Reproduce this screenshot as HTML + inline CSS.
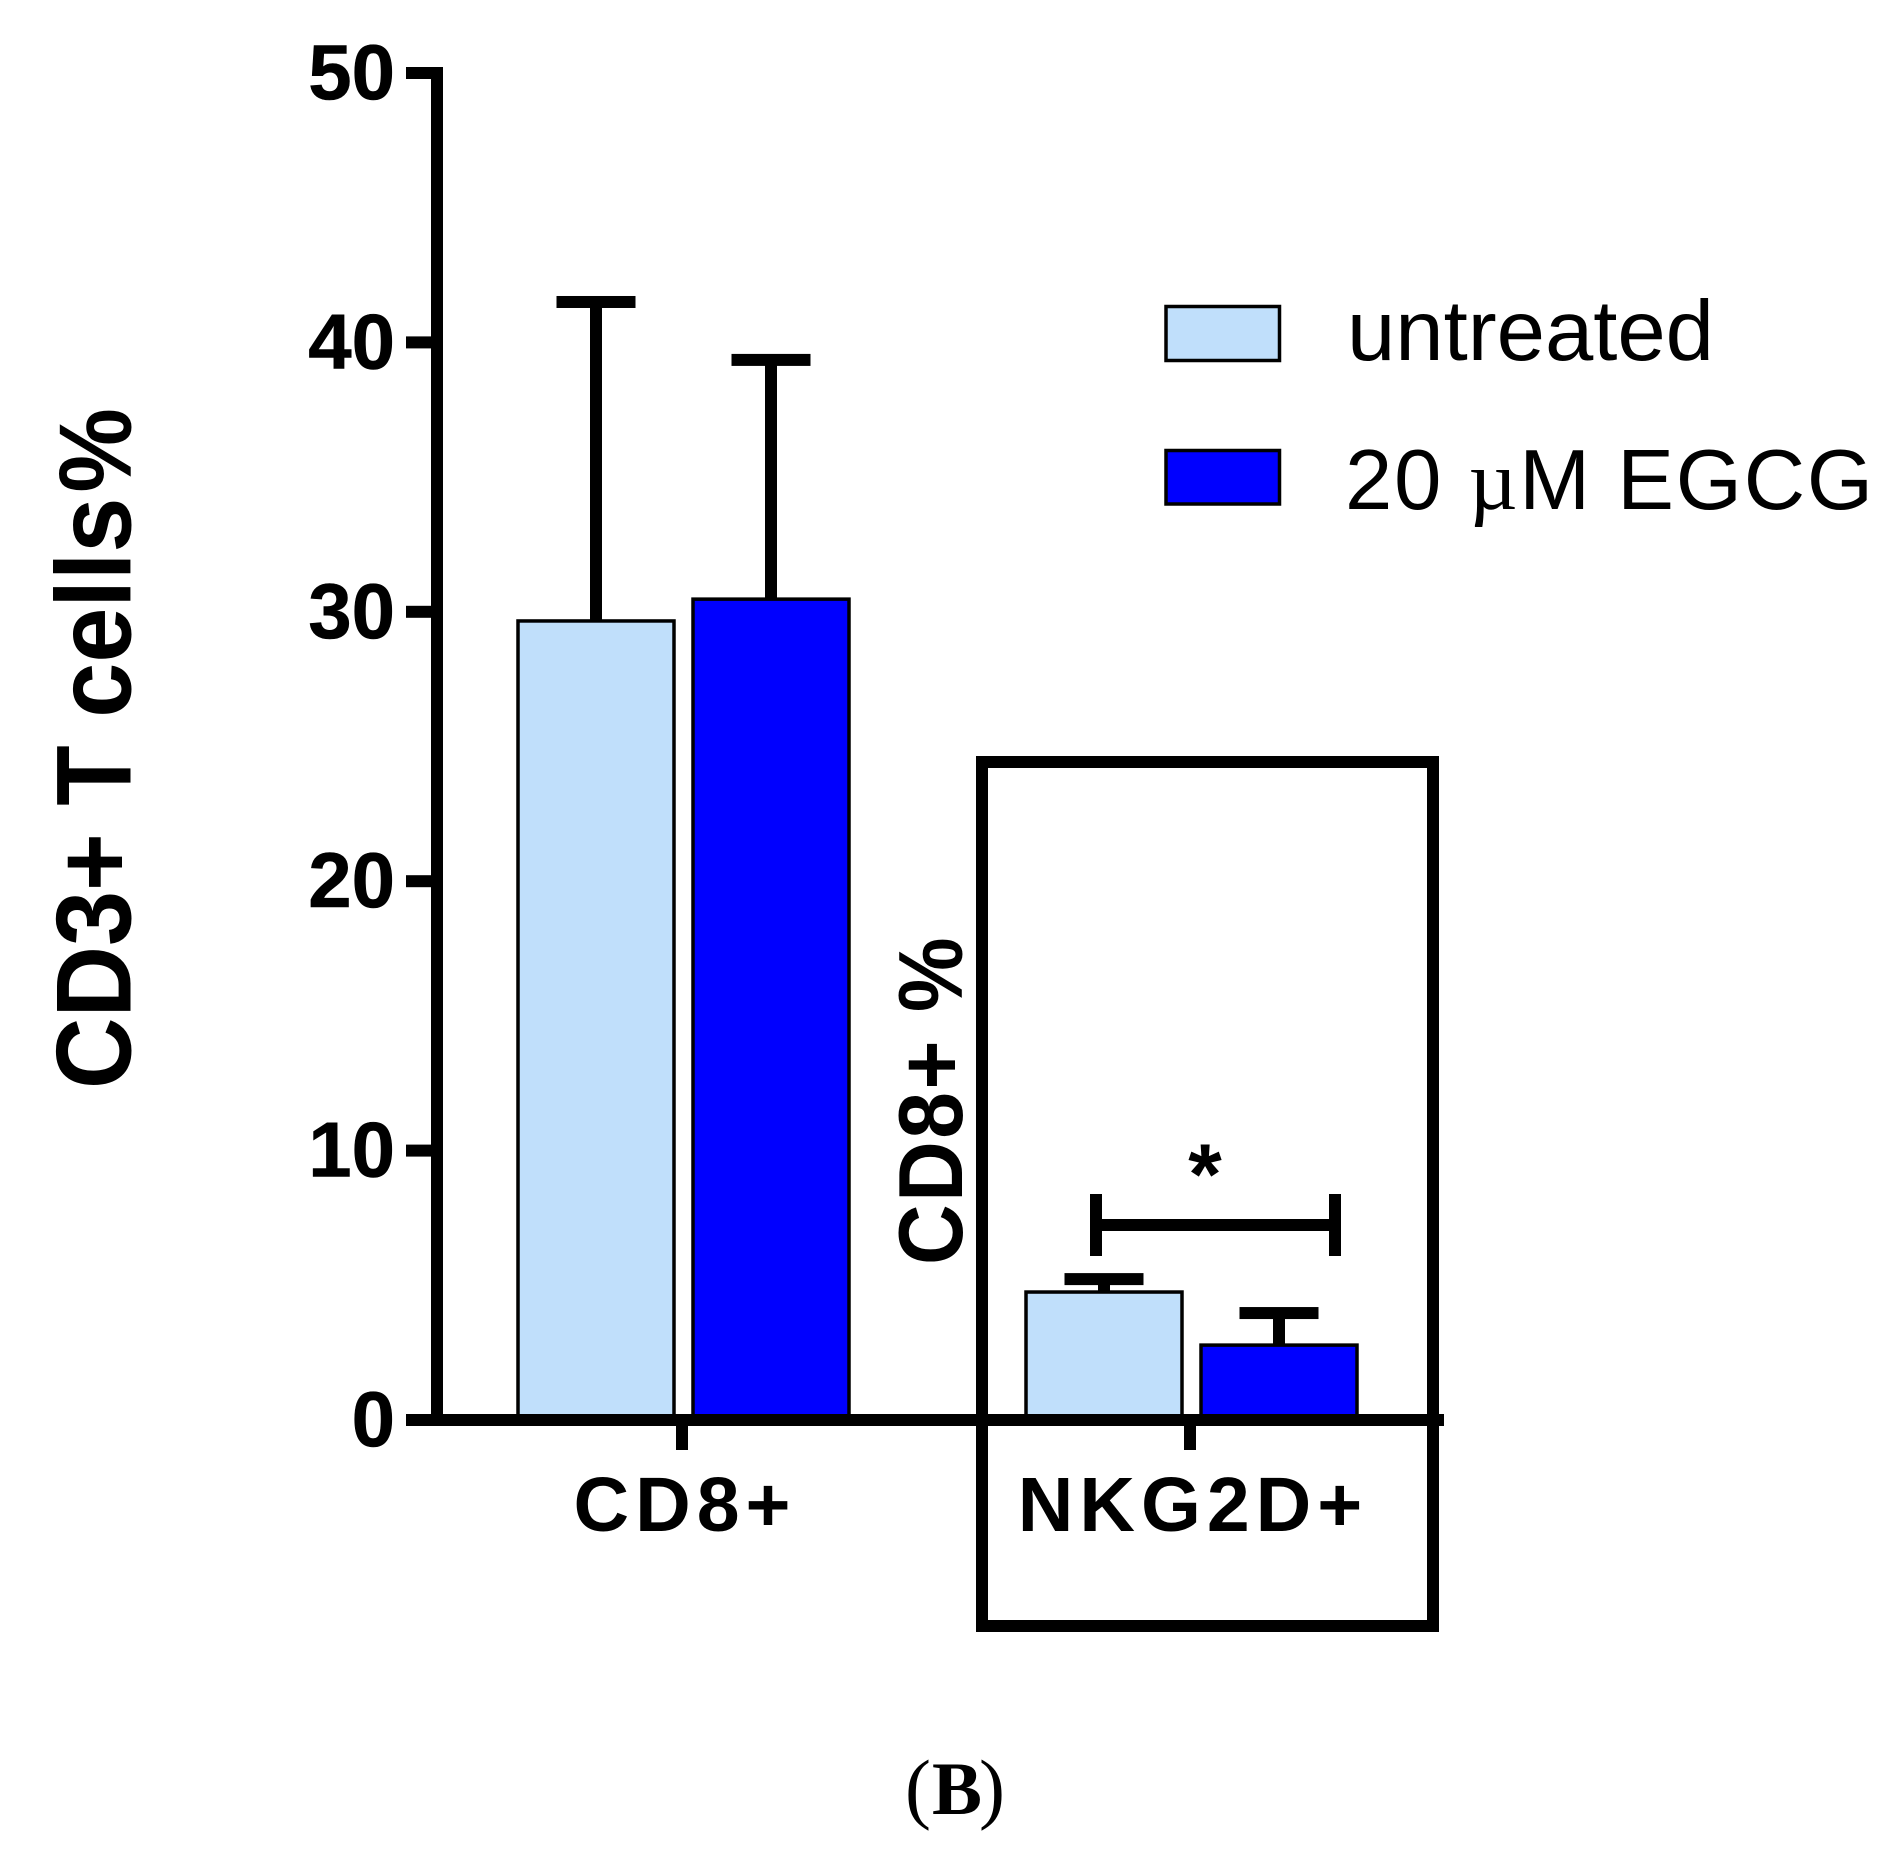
<!DOCTYPE html>
<html lang="en">
<head>
<meta charset="utf-8">
<title>CD3+ T cells bar chart</title>
<style>
html,body{margin:0;padding:0;background:#fff;width:1890px;height:1868px;overflow:hidden}
svg{display:block}
text{font-family:"Liberation Sans",Arial,sans-serif;fill:#000;font-kerning:none}
</style>
</head>
<body>
<svg id="chart" xmlns="http://www.w3.org/2000/svg" width="1890" height="1868" viewBox="0 0 1890 1868">
  <rect x="0" y="0" width="1890" height="1868" fill="#ffffff"/>
  <text transform="translate(130.5 1089) rotate(-90) scale(1 1.08)" font-size="99" font-weight="700">CD3+ T cells<tspan dx="5" font-size="95">%</tspan></text>
  <text transform="translate(962 1265) rotate(-90) scale(1 1.08)" font-size="84" font-weight="700" letter-spacing="2.5">CD8+ %</text>
  <rect x="982" y="762" width="451" height="864" fill="none" stroke="#000" stroke-width="12"/>
  <g id="marks"></g>
  <g id="axes"></g>
  <g fill="#000">
    <rect x="1090" y="1194" width="12" height="62"/>
    <rect x="1329" y="1194" width="12" height="62"/>
    <rect x="1090" y="1219" width="251" height="12"/>
  </g>
  <text x="1205" y="1204" font-size="86" font-weight="700" text-anchor="middle">*</text>
  <g>
    <rect x="1166" y="306.5" width="113.5" height="54" fill="#c0dffb" stroke="#000" stroke-width="3.5"/>
    <text x="1347" y="360" font-size="85" textLength="367" lengthAdjust="spacingAndGlyphs">untreated</text>
    <rect x="1166" y="450.5" width="113.5" height="53.5" fill="#0000ff" stroke="#000" stroke-width="3.5"/>
    <text x="1345" y="509" font-size="85" textLength="528" lengthAdjust="spacing">20 <tspan font-family="'Liberation Serif',serif">µ</tspan>M EGCG</text>
  </g>
  <text x="905" y="1814" style="font-family:'Liberation Serif',serif" font-size="78">(<tspan dx="1" font-size="75" font-weight="700">B</tspan><tspan dx="-3">)</tspan></text>
</svg>
<script>
const categories = ['CD8+', 'NKG2D+'];
const seriesNames = ['untreated', '20 µM EGCG'];
const untreatedValues = [29.66, 4.75];
const egcgValues = [30.47, 2.78];
const untreatedErrors = [41.5, 5.23];
const egcgErrors = [39.35, 3.97];
const yTicks = [0, 10, 20, 30, 40, 50];
const yTickLabels = ['0', '10', '20', '30', '40', '50'];

const NS = 'http://www.w3.org/2000/svg';
const marks = document.getElementById('marks');
const axes = document.getElementById('axes');
function yScale(v) { return 1420 - 26.94 * v; }
function xScale(i) { return 682 + 508 * i; }
function make(parent, tag, attrs) {
  const node = document.createElementNS(NS, tag);
  Object.keys(attrs).forEach(function (k) { node.setAttribute(k, attrs[k]); });
  parent.appendChild(node);
  return node;
}
const barWidth = 156;
const offsets = [-86, 89];
const colors = ['#c0dffb', '#0000ff'];
const allValues = [untreatedValues, egcgValues];
const allErrors = [untreatedErrors, egcgErrors];

allValues.forEach(function (values, s) {
  values.forEach(function (v, i) {
    const cx = xScale(i) + offsets[s];
    const err = allErrors[s][i];
    const stem = make(marks, 'rect', { x: cx - 6, y: yScale(err), width: 12, height: yScale(v) - yScale(err), fill: '#000' });
    
    
    const cap = make(marks, 'rect', { x: cx - 39.5, y: yScale(err) - 6, width: 79, height: 12, fill: '#000' });
    
    
    const bar = make(marks, 'rect', { x: cx - barWidth / 2, y: yScale(v), width: barWidth, height: yScale(0) - yScale(v), fill: colors[s], stroke: '#000', 'stroke-width': 3.5 });
    
    
  });
});

const yAxisLine = make(axes, 'rect', { x: 431, y: yScale(50) - 6, width: 12, height: yScale(0) - yScale(50) + 12, fill: '#000' });


const xAxisLine = make(axes, 'rect', { x: 406, y: yScale(0) - 6, width: 1038, height: 12, fill: '#000' });



yTicks.forEach(function (t, i) {
  const tick = make(axes, 'rect', { x: 406, y: yScale(t) - 6, width: 30, height: 12, fill: '#000' });
  
  
  const label = make(axes, 'text', { x: 395, y: yScale(t) + 26, 'font-size': 78, 'font-weight': 700, 'text-anchor': 'end', stroke: '#000', 'stroke-width': 0.6 });
  
  
  label.textContent = yTickLabels[i];
});

categories.forEach(function (c, i) {
  const tick = make(axes, 'rect', { x: xScale(i) - 6, y: yScale(0), width: 12, height: 30, fill: '#000' });
  
  
  const label = make(axes, 'text', { x: xScale(i) + 3, y: 1531, 'font-size': 77, 'font-weight': 700, 'text-anchor': 'middle', 'letter-spacing': 6 });
  
  
  label.textContent = c;
});
</script>
</body>
</html>
